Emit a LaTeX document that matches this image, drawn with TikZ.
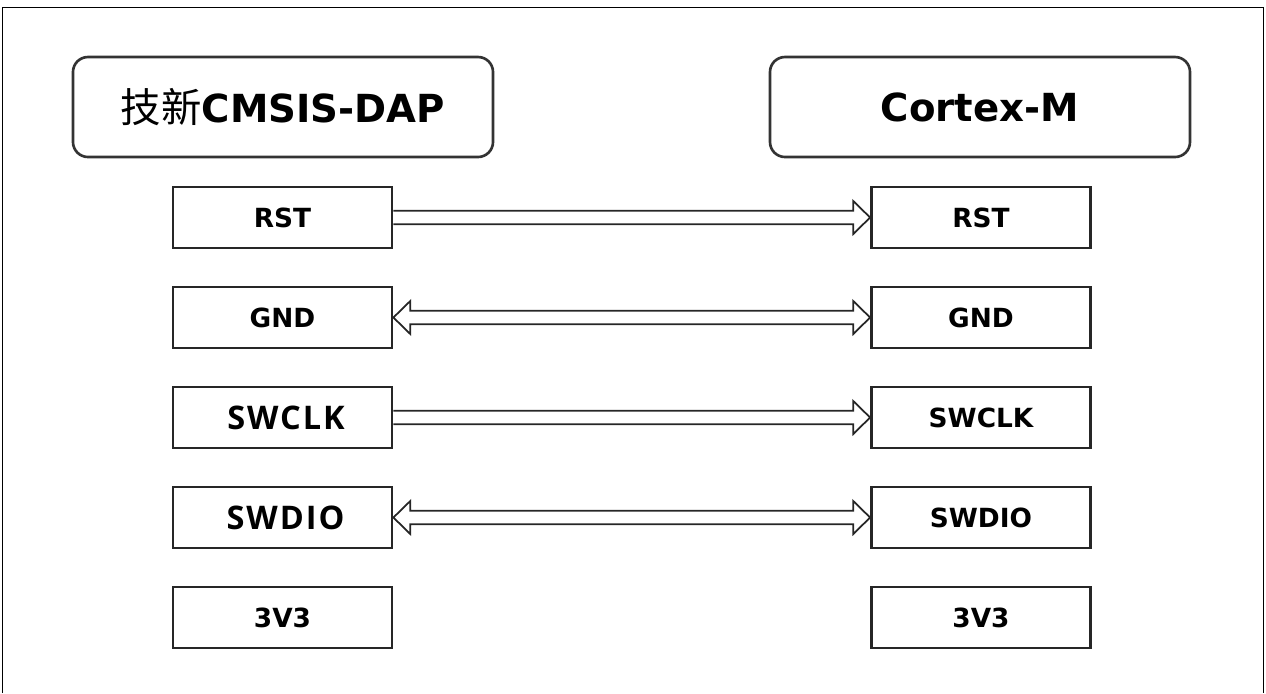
\documentclass[tikz,border=0pt]{standalone}
\usepackage{fontspec}
\setmainfont{DejaVu Sans}
\newfontfamily\cjk{Noto Sans CJK SC}
\newfontfamily\labfont[LetterSpace=6]{Open Sans}
\usetikzlibrary{calc}

\begin{document}
\begin{tikzpicture}
[
x=0.2mm, y=-0.2mm,
chip/.style={rectangle, rounded corners=3mm, draw=black!80, line width=1.5pt, minimum width=84mm, minimum height=20mm, font=\bfseries\fontsize{22}{26}\selectfont},
sig/.style={rectangle, draw=black!85, line width=1.6pt, minimum width=43.8mm, minimum height=12.2mm, font=\bfseries\fontsize{15}{18}\selectfont, node distance=20mm},
sigbig/.style={font=\labfont\bfseries\fontsize{18.5}{22}\selectfont},
busone/.style={draw=black!85, line width=1pt, line join=miter, to path={let \p1=(\tikztostart), \p2=(\tikztotarget) in
  (\x1,\y1+3.8pt) -- (\x2-9.6pt,\y1+3.8pt) -- (\x2-9.6pt,\y1+9.4pt) -- (\x2,\y1)
  -- (\x2-9.6pt,\y1-9.4pt) -- (\x2-9.6pt,\y1-3.8pt) -- (\x1,\y1-3.8pt)}},
busboth/.style={draw=black!85, line width=1pt, line join=miter, to path={let \p1=(\tikztostart), \p2=(\tikztotarget) in
  (\x1,\y1) -- (\x1+9.6pt,\y1+9.4pt) -- (\x1+9.6pt,\y1+3.8pt) -- (\x2-9.6pt,\y1+3.8pt) -- (\x2-9.6pt,\y1+9.4pt) -- (\x2,\y1)
  -- (\x2-9.6pt,\y1-9.4pt) -- (\x2-9.6pt,\y1-3.8pt) -- (\x1+9.6pt,\y1-3.8pt) -- (\x1+9.6pt,\y1-9.4pt) -- cycle}}
]
\useasboundingbox (0,0) rectangle (1266,693);
%Frame
\draw[line width=1pt] (2.5,693) -- (2.5,7.5) -- (1263.5,7.5) -- (1263.5,693);

%Nodes
\node[chip]         (dapT)      at (283,107)        {{\cjk\mdseries\fontsize{23}{26}\selectfont 技新}CMSIS-DAP};
\node[chip]         (cortexT)   at (980,107)        {Cortex-M};

\node[sig]          (rstL)      at (282.5,217.5)    {RST};
\node[sig]          (gndL)      [below of=rstL]     {GND};
\node[sig,sigbig]   (clkL)      [below of=gndL]     {\hspace{1.4mm}SWCLK};
\node[sig,sigbig]   (dioL)      [below of=clkL]     {\hspace{1.2mm}SWDIO};
\node[sig]          (vccL)      [below of=dioL]     {3V3};

\node[sig]          (rstR)      [node distance=139.7mm, right of=rstL] {RST};
\node[sig]          (gndR)      [below of=rstR]     {GND};
\node[sig]          (clkR)      [below of=gndR]     {SWCLK};
\node[sig]          (dioR)      [below of=clkR]     {SWDIO};
\node[sig]          (vccR)      [below of=dioR]     {3V3};

%Lines
\path
(rstL.east) edge [busone]    (rstR.west)
(gndL.east) edge [busboth]   (gndR.west)
(clkL.east) edge [busone]    (clkR.west)
(dioL.east) edge [busboth]   (dioR.west);
\end{tikzpicture}
\end{document}
